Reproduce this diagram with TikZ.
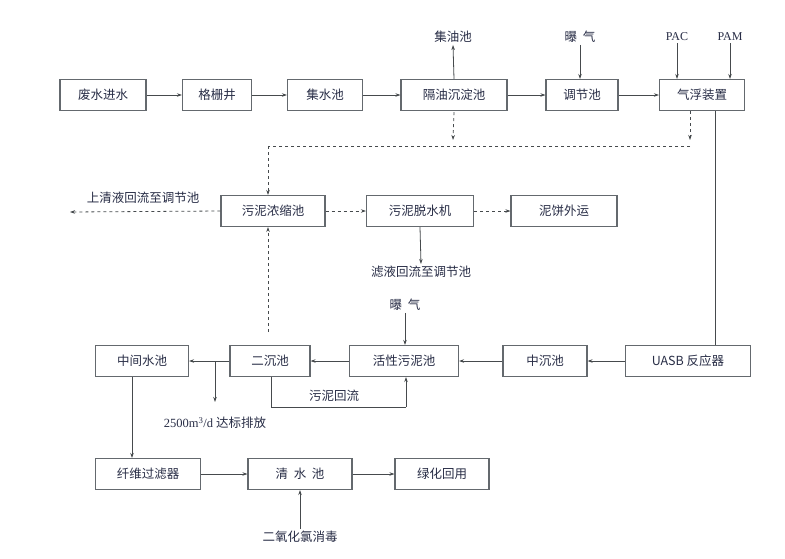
\documentclass[tikz,border=0pt]{standalone}
\usepackage{fontspec}
\setmainfont{Liberation Serif}
\newfontfamily\cjk{Noto Sans CJK SC}
\usetikzlibrary{arrows.meta}
\definecolor{bx}{RGB}{100,105,110}
\definecolor{tx}{RGB}{40,45,70}
\begin{document}
\begin{tikzpicture}[x=1pt,y=-1pt,
  bx/.style={draw=bx,line width=1.1pt,minimum height=31pt,inner sep=0pt,font=\cjk\fontsize{12.5}{12.5}\selectfont,text=tx},
  lb/.style={font=\cjk\fontsize{12.5}{12.5}\selectfont,text=tx,inner sep=2pt},
  ar/.style={draw=bx!70!black,line width=0.8pt,-{Stealth[length=5pt,width=3.5pt]}},
  da/.style={ar,dashed}]
\fill[white] (0,0) rectangle (785,558);
\useasboundingbox (0,0) rectangle (785,558);
% row 1
\node[bx,minimum width=86pt] (a1) at (103,95) {废水进水};
\node[bx,minimum width=69pt] (a2) at (217,95) {格栅井};
\node[bx,minimum width=75pt] (a3) at (325,95) {集水池};
\node[bx,minimum width=106pt] (a4) at (454,95) {隔油沉淀池};
\node[bx,minimum width=72pt] (a5) at (582,95) {调节池};
\node[bx,minimum width=85pt] (a6) at (702,95) {气浮装置};
\draw[ar] (a1) -- (a2); \draw[ar] (a2) -- (a3); \draw[ar] (a3) -- (a4);
\draw[ar] (a4) -- (a5); \draw[ar] (a5) -- (a6);
\node[lb] (oil) at (453,37) {集油池};
\node[lb] (aer1) at (580,37) {曝\ \ 气};
\node[inner sep=2pt,font=\fontsize{12}{12}\selectfont,text=tx] (pac) at (677,37) {PAC};
\node[inner sep=2pt,font=\fontsize{12}{12}\selectfont,text=tx] (pam) at (730,37) {PAM};
\draw[ar] (a4.north) -- (oil.south);
\draw[ar] (aer1) -- (aer1|-a5.north);
\draw[ar] (pac) -- (pac|-a6.north);
\draw[ar] (pam) -- (pam|-a6.north);
% row 2
\node[bx,minimum width=104pt] (b1) at (273,211) {污泥浓缩池};
\node[bx,minimum width=107pt] (b2) at (420,211) {污泥脱水机};
\node[bx,minimum width=106pt] (b3) at (564,211) {泥饼外运};
\coordinate (d1) at (453,140);
\coordinate (d2) at (690,140);
\coordinate (d2s) at (690,111);
\coordinate (h2) at (690,146);
\coordinate (h1) at (268,146);
\draw[da] ([yshift=-1pt]a4.south) -- (d1);
\draw[da] (d2s) -- (d2);
\draw[dashed,draw=bx!70!black,line width=0.8pt] (h2) -- (h1);
\draw[da] (h1) -- (h1|-b1.north);
\draw[da] (b1) -- (b2); \draw[da] (b2) -- (b3);
\coordinate (up) at (70,212);
\draw[da] (b1.west) -- (up);
\node[lb] at (143,198) {上清液回流至调节池};
\node[lb] (filt) at (421,272) {滤液回流至调节池};
\draw[ar] (b2.south) -- (filt.north);
% row 3
\node[bx,minimum width=93pt] (c1) at (142,361) {中间水池};
\node[bx,minimum width=80pt] (c2) at (270,361) {二沉池};
\node[bx,minimum width=109pt] (c3) at (404,361) {活性污泥池};
\node[bx,minimum width=84pt] (c4) at (545,361) {中沉池};
\node[bx,minimum width=125pt] (c5) at (688,361) {UASB 反应器};
\coordinate (v1) at (715,111);
\draw[ar,-] (v1) -- (v1|-c5.north);
\draw[ar] (c5) -- (c4); \draw[ar] (c4) -- (c3); \draw[ar] (c3) -- (c2); \draw[ar] (c2) -- (c1);
\node[lb] (aer2) at (405,305) {曝\ \ 气};
\draw[ar] (aer2) -- (aer2|-c3.north);
\coordinate (ds) at (268,332);
\draw[da] (ds) -- (ds|-b1.south);
\coordinate (r1) at (271,407);
\coordinate (r2) at (406,407);
\draw[draw=bx!70!black,line width=0.8pt] (r1|-c2.south) -- (r1) -- (r2);
\draw[ar] (r2) -- (r2|-c3.south);
\node[lb] at (334,396) {污泥回流};
\coordinate (j) at (215,361);
\coordinate (jd) at (215,402);
\node[inner sep=1pt,text=tx] (dis) at (215,423) {\fontsize{12.5}{12.5}\selectfont 2500m\textsuperscript{3}/d {\cjk 达标排放}};
\draw[ar] (j) -- (jd);
% row 4
\node[bx,minimum width=105pt] (e1) at (148,474) {纤维过滤器};
\node[bx,minimum width=104pt] (e2) at (300,474) {清\ \ 水\ \ 池};
\node[bx,minimum width=94pt] (e3) at (442,474) {绿化回用};
\coordinate (k) at (132,420);
\draw[ar] (k|-c1.south) -- (k|-e1.north);
\draw[ar] (e1) -- (e2); \draw[ar] (e2) -- (e3);
\node[lb] (cl) at (300,537) {二氧化氯消毒};
\draw[ar] (cl.north) -- (e2.south);
\end{tikzpicture}
\end{document}
